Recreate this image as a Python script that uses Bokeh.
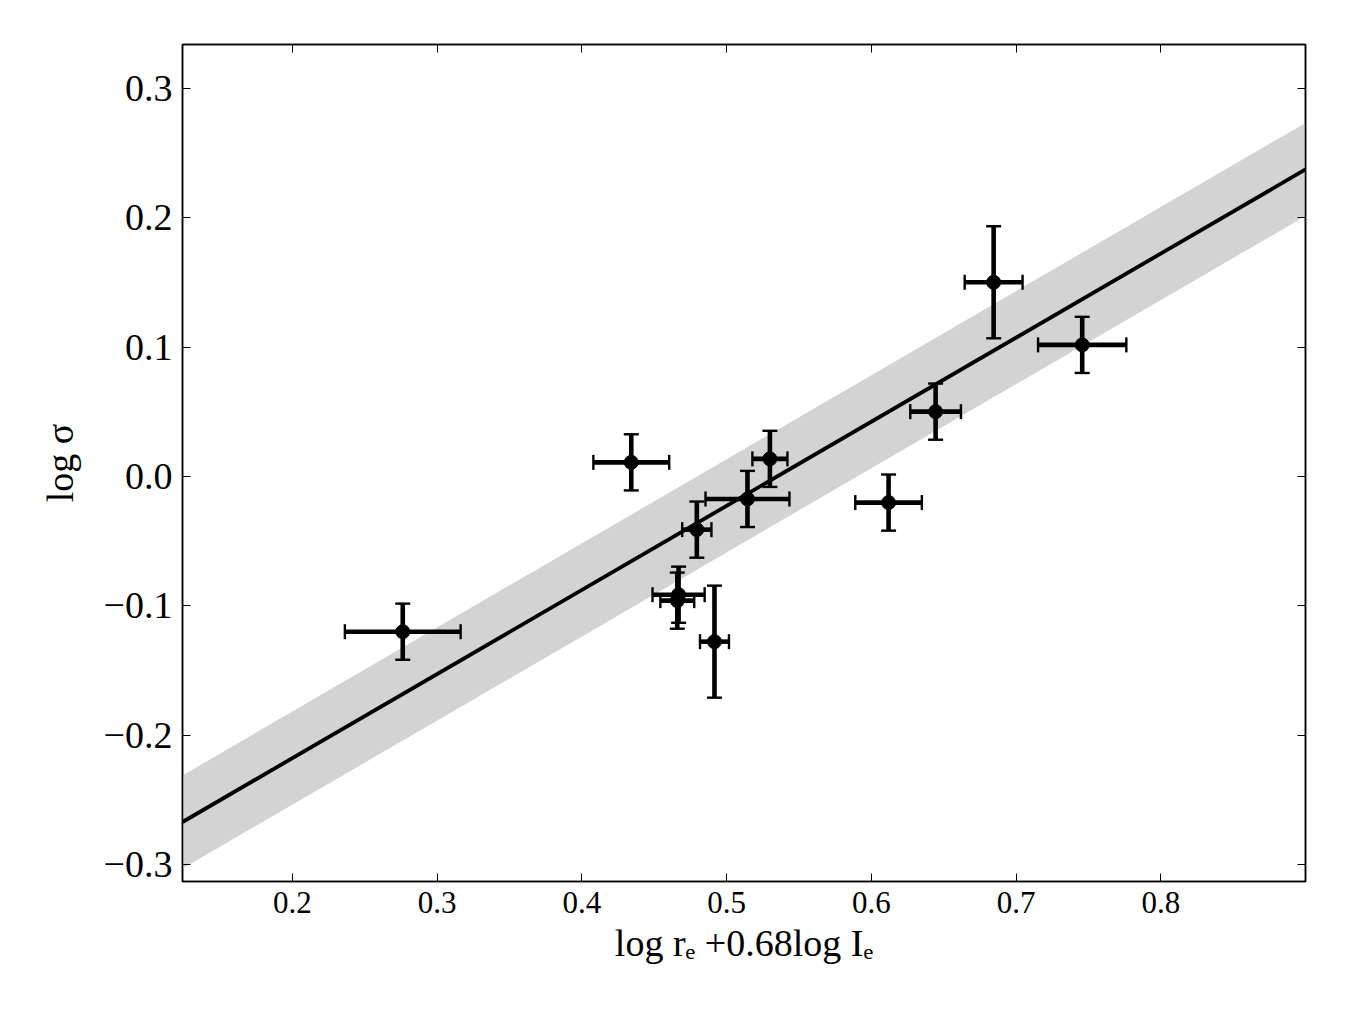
import numpy as np
from bokeh.plotting import figure
from bokeh.models import ColumnDataSource, LinearAxis, FixedTicker, Range1d
from bokeh.embed import file_html
from bokeh.resources import INLINE

# ---- data ----
x_vals = [0.2762, 0.4341, 0.4794, 0.5144, 0.5299, 0.4668, 0.4659, 0.4916, 0.6119, 0.6444, 0.6845, 0.7457]
y_vals = [-0.1199, 0.0110, -0.0410, -0.0173, 0.0137, -0.0913, -0.0959, -0.1276, -0.0201, 0.0502, 0.1502, 0.1018]
x_err = [0.0400, 0.0262, 0.0101, 0.0290, 0.0121, 0.0180, 0.0117, 0.0100, 0.0230, 0.0175, 0.0200, 0.0305]
y_err = [0.0217, 0.0217, 0.0217, 0.0217, 0.0217, 0.0217, 0.0217, 0.0433, 0.0217, 0.0217, 0.0433, 0.0217]

fit_slope = 0.650
fit_intercept = -0.3476
fit_scatter = 0.036

x_range = (0.124, 0.900)
y_range = (-0.313, 0.334)
x_ticks = [0.2, 0.3, 0.4, 0.5, 0.6, 0.7, 0.8]
y_ticks = [-0.3, -0.2, -0.1, 0.0, 0.1, 0.2, 0.3]

FONT = "Liberation Serif"

p = figure(width=1350, height=1013, output_backend="svg", toolbar_location=None,
           x_range=Range1d(*x_range), y_range=Range1d(*y_range))
p.min_border_left = 182
p.min_border_right = 45
p.min_border_top = 44
p.min_border_bottom = 132
p.xgrid.visible = False
p.ygrid.visible = False
p.outline_line_color = "black"
p.outline_line_width = 1.5
p.background_fill_color = "white"
p.border_fill_color = "white"

# fit band and line
xf = np.array(x_range)
yf = fit_slope * xf + fit_intercept
p.varea(x=xf, y1=yf - fit_scatter, y2=yf + fit_scatter, fill_color="#d3d3d3")
p.line(xf, yf, line_color="black", line_width=3.8)

# data with error bars
xa = np.array(x_vals); ya = np.array(y_vals)
xe = np.array(x_err); ye = np.array(y_err)
src = ColumnDataSource(dict(x=xa, y=ya, xl=xa - xe, xu=xa + xe, yl=ya - ye, yu=ya + ye))

BAR_W = 4.6
p.segment(x0="xl", y0="y", x1="xu", y1="y", source=src, line_color="black", line_width=BAR_W)
p.segment(x0="x", y0="yl", x1="x", y1="yu", source=src, line_color="black", line_width=BAR_W)
# caps
CAP = 15
CAP_W = 2.4
p.scatter(x="x", y="yl", source=src, marker="dash", size=CAP, line_color="black", line_width=CAP_W)
p.scatter(x="x", y="yu", source=src, marker="dash", size=CAP, line_color="black", line_width=CAP_W)
p.scatter(x="xl", y="y", source=src, marker="dash", angle=np.pi / 2, size=CAP, line_color="black", line_width=CAP_W)
p.scatter(x="xu", y="y", source=src, marker="dash", angle=np.pi / 2, size=CAP, line_color="black", line_width=CAP_W)
p.scatter("x", "y", source=src, size=14, fill_color="black", line_color="black")

# axes
def style_axis(ax, size):
    ax.major_tick_in = 8
    ax.major_tick_out = 0
    ax.minor_tick_in = 0
    ax.minor_tick_out = 0
    ax.major_tick_line_color = "black"
    ax.major_tick_line_width = 1
    ax.axis_line_color = "black"
    ax.axis_line_width = 1.5
    ax.major_label_text_font = FONT
    ax.major_label_text_font_size = size
    ax.major_label_text_color = "black"

def fmt(v):
    s = "%.1f" % v
    return s.replace("-", "\u2212")

xa0 = p.xaxis[0]
ya0 = p.yaxis[0]
xa0.ticker = FixedTicker(ticks=x_ticks)
ya0.ticker = FixedTicker(ticks=y_ticks)
xa0.major_label_overrides = {t: fmt(t) for t in x_ticks}
ya0.major_label_overrides = {t: fmt(t) for t in y_ticks}
style_axis(xa0, "31px")
style_axis(ya0, "38px")
xa0.major_label_standoff = 10
ya0.major_label_standoff = 10

xa0.axis_label = "log r\u2091 +0.68log I\u2091"
ya0.axis_label = "log \u03c3"
for ax in (xa0, ya0):
    ax.axis_label_text_font = FONT
    ax.axis_label_text_font_style = "normal"
    ax.axis_label_text_color = "black"
xa0.axis_label_text_font_size = "38px"
ya0.axis_label_text_font_size = "38px"
xa0.axis_label_standoff = 6
ya0.axis_label_standoff = 20

top = LinearAxis(ticker=FixedTicker(ticks=x_ticks))
right = LinearAxis(ticker=FixedTicker(ticks=y_ticks))
for ax in (top, right):
    style_axis(ax, "30px")
    ax.major_label_text_color = None
    ax.major_label_text_font_size = "0px"
p.add_layout(top, "above")
p.add_layout(right, "right")

open("out.html", "w").write(file_html(p, INLINE))
